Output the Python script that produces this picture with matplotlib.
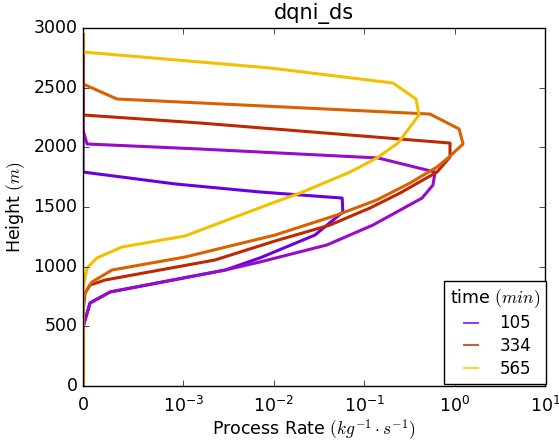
import matplotlib
matplotlib.use("Agg")
import matplotlib.pyplot as plt
from matplotlib.ticker import NullLocator, FixedLocator

plt.style.use("classic")

times = [105, 220, 334, 450, 565]
show_label = [True, False, True, False, True]
color_pos = [0.17, 0.355, 0.54, 0.725, 0.91]

h_105 = [2940, 1793, 1693, 1626, 1575, 1458, 1265, 1073, 972, 788, 696, 494, 0]
v_105 = [0, 0, 9.2e-4, 7.0e-3, 0.057, 0.058, 0.0285, 7.0e-3, 2.9e-3, 2.7e-4, 7.0e-5, 0, 0]

h_220 = [2940, 2145, 2028, 1986, 1911, 1793, 1684, 1575, 1349, 1182, 1039, 972, 788, 696, 494, 0]
v_220 = [0, 0, 4.0e-5, 1.52e-3, 0.142, 0.607, 0.576, 0.436, 0.125, 0.0387, 7.0e-3, 2.9e-3, 2.7e-4, 7.0e-5, 0, 0]

h_334 = [2940, 2271, 2204, 2036, 1919, 1793, 1617, 1492, 1349, 1215, 1056, 888, 846, 779, 620, 0]
v_334 = [0, 0, 1.52e-3, 0.889, 0.889, 0.638, 0.249, 0.116, 0.0418, 0.0103, 2.23e-3, 2.19e-4, 6.97e-5, 1.99e-5, 0, 0]

h_450 = [2940, 2531, 2405, 2372, 2279, 2154, 2028, 1911, 1835, 1701, 1559, 1433, 1265, 1081, 972, 872, 779, 720, 0]
v_450 = [0, 0, 3.38e-4, 1.52e-3, 0.533, 1.12, 1.24, 0.845, 0.638, 0.321, 0.138, 0.0500, 0.0103, 1.04e-3, 2.89e-4, 8.96e-5, 1.99e-5, 0, 0]

h_565 = [2940, 2799, 2665, 2539, 2405, 2271, 2036, 1911, 1793, 1617, 1542, 1257, 1165, 1073, 989, 821, 0]
v_565 = [0, 0, 9.08e-3, 0.208, 0.374, 0.404, 0.236, 0.138, 0.0697, 0.0195, 0.0103, 1.04e-3, 3.88e-4, 1.39e-4, 3.98e-5, 0, 0]

heights = [h_105, h_220, h_334, h_450, h_565]
values = [v_105, v_220, v_334, v_450, v_565]

xticks = [0, 1e-3, 1e-2, 1e-1, 1, 10]
yticks = [0, 500, 1000, 1500, 2000, 2500, 3000]

fig = plt.figure(figsize=(5.59, 4.41), dpi=100, facecolor="white")
ax = fig.add_axes([0.1485, 0.1247, 0.975 - 0.1485, 0.9365 - 0.1247])
cmap = plt.get_cmap("gnuplot")

for t, lab, cp, h, v in zip(times, show_label, color_pos, heights, values):
    ax.plot(v, h, color=cmap(cp), lw=2.2,
            label=str(t) if lab else "_nolegend_")

ax.set_xscale("symlog", linthresh=1e-3, linscale=1)
ax.set_xlim(0, 10)
ax.set_ylim(0, 3000)
ax.xaxis.set_major_locator(FixedLocator(xticks))
ax.xaxis.set_minor_locator(NullLocator())
ax.set_yticks(yticks)
ax.yaxis.set_minor_locator(NullLocator())
ax.tick_params(labelsize=12.5)
ax.tick_params(axis="x", pad=7)

ax.set_title("dqni_ds", fontsize=15, y=1.005)
ax.set_xlabel(r"Process Rate $(kg^{-1} \cdot s^{-1})$", fontsize=12.5, labelpad=1)
ax.set_ylabel(r"Height $(m)$", fontsize=12.5)

leg = ax.legend(loc="lower right", title=r"time $(min)$", fontsize=12,
                handlelength=1.4, handletextpad=1.0, borderaxespad=0.15,
                fancybox=False, labelspacing=0.28, borderpad=0.35,
                bbox_to_anchor=(1.008, 0.0))
leg.get_title().set_fontsize(12.5)
for ln in leg.get_lines():
    ln.set_linewidth(1.5)
    ln.set_alpha(0.75)

fig.savefig("out.png", dpi=100, facecolor="white")
